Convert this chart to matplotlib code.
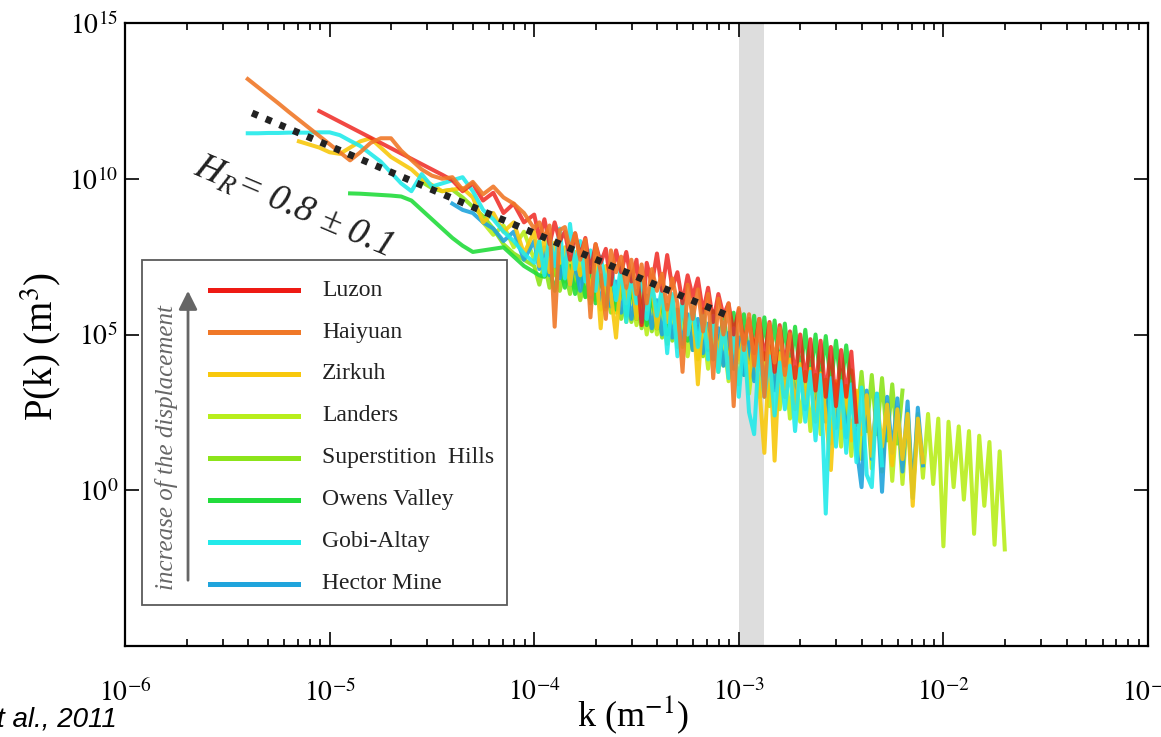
import matplotlib.pyplot as plt
import numpy as np
from matplotlib.patches import Rectangle
from matplotlib.lines import Line2D
from matplotlib.ticker import FixedLocator, NullFormatter, FuncFormatter

# ── Spectra (log10 values) ─────────────────────────────────

# wavenumber grid, log10(k / m^-1): coarse below 1e-4, fine above
LOGK = [-5.40, -5.35, -5.30, -5.25, -5.20, -5.15, -5.10, -5.05, -5.00, -4.95,
        -4.90, -4.85, -4.80, -4.75, -4.70, -4.65, -4.60, -4.55, -4.50, -4.45,
        -4.40, -4.35, -4.30, -4.25, -4.20, -4.15, -4.10, -4.05,
        -4.000, -3.975, -3.950, -3.925, -3.900, -3.875, -3.850, -3.825,
        -3.800, -3.775, -3.750, -3.725, -3.700, -3.675, -3.650, -3.625,
        -3.600, -3.575, -3.550, -3.525, -3.500, -3.475, -3.450, -3.425,
        -3.400, -3.375, -3.350, -3.325, -3.300, -3.275, -3.250, -3.225,
        -3.200, -3.175, -3.150, -3.125, -3.100, -3.075, -3.050, -3.025,
        -3.000, -2.975, -2.950, -2.925, -2.900, -2.875, -2.850, -2.825,
        -2.800, -2.775, -2.750, -2.725, -2.700, -2.675, -2.650, -2.625,
        -2.600, -2.575, -2.550, -2.525, -2.500, -2.475, -2.450, -2.425,
        -2.400, -2.375, -2.350, -2.325, -2.300, -2.275, -2.250, -2.225,
        -2.200, -2.175, -2.150, -2.125, -2.100, -2.075, -2.050, -2.025,
        -2.000, -1.975, -1.950, -1.925, -1.900, -1.875, -1.850, -1.825,
        -1.800, -1.775, -1.750, -1.725, -1.700]

# log10 P(k); each series starts at its own grid value (start_logk)
luzon = [12.17, 12.00, 11.83, 11.66, 11.49, 11.32, 11.15, 10.98, 10.81, 10.64,
         10.47, 10.30, 10.13, 9.95, 9.60, 9.85, 9.30, 9.55, 8.90, 9.20, 8.60,
         8.85, 8.10, 8.70, 7.90, 8.60, 8.00, 8.30, 7.40,
         8.25, 7.50, 8.10, 7.00, 7.90, 7.30, 7.75, 6.60,
         7.70, 7.00, 7.65, 6.70, 7.40, 5.30, 7.30, 6.60,
         7.60, 6.40, 7.55, 6.50, 7.00, 6.00, 6.90, 6.20,
         6.80, 5.70, 6.50, 5.40, 6.30, 5.60, 6.00, 5.00,
         5.80, 4.70, 5.50, 4.40, 5.50, 4.20, 5.40, 3.80,
         5.30, 4.00, 5.10, 3.60, 5.00, 3.50, 4.85, 3.20,
         4.80, 3.00, 4.60, 2.70, 4.50, 3.00, 4.45, 2.20]
haiyuan = [13.20, 12.94, 12.68, 12.42, 12.15, 11.89, 11.63, 11.37, 11.11, 10.85,
           10.59, 10.85, 11.15, 11.30, 11.30, 10.90, 10.60, 10.30, 10.10, 10.00,
           10.05, 9.65, 9.90, 9.50, 9.75, 9.40, 9.20, 8.90,
           8.40, 8.60, 8.10, 8.50, 5.25, 8.35, 8.45, 7.70,
           8.25, 7.40, 8.05, 5.55, 7.90, 7.00, 5.50, 7.70,
           7.00, 7.50, 6.50, 7.40, 6.30, 7.25, 6.00, 7.10,
           6.40, 6.95, 5.80, 6.80, 6.00, 3.80, 6.60, 5.50,
           6.45, 5.10, 6.30, 3.60, 6.15, 5.00, 6.00, 2.70,
           5.85, 4.50, 5.65, 4.00, 5.50, 3.00, 5.35, 4.10,
           5.20, 3.70, 5.00]
zirkuh = [11.20, 11.10, 11.00, 10.85, 10.80, 11.00, 11.20, 11.30, 11.00, 10.70,
          10.50, 10.30, 10.00, 9.80, 9.60, 9.65, 9.70, 9.40, 8.60, 8.90,
          8.30, 8.60, 7.60,
          8.30, 7.20, 8.10, 7.00, 7.95, 7.30, 7.80, 6.60,
          7.65, 6.90, 7.50, 6.30, 7.40, 5.20, 7.20, 6.30,
          4.90, 7.00, 6.00, 6.90, 5.50, 6.70, 5.80, 6.60,
          5.20, 6.40, 5.40, 6.25, 4.90, 6.10, 5.00, 5.90,
          3.40, 5.80, 4.60, 5.60, 4.30, 5.40, 3.90, 5.20,
          4.10, 5.00, 3.60, 4.85, 3.30, 1.20, 4.60, 0.95,
          4.40, 3.00, 4.20, 2.60, 4.05, 2.80, 3.90, 2.20,
          3.75, 2.40, 0.65, 3.50, 2.00, 3.35, 1.60, 3.20,
          1.80, 3.05, 1.10, 2.90, 1.40, 2.75, 0.80, 2.60,
          1.00, 2.45, -0.50, 2.30, 0.90]
landers = [8.60, 8.20, 8.50, 7.80, 8.30,
           7.40, 8.00, 7.10, 7.80, 6.90, 7.60, 6.70, 7.50,
           6.50, 7.30, 6.20, 7.10, 6.10, 6.90, 5.80, 6.75,
           5.70, 6.60, 5.40, 6.40, 5.30, 6.25, 5.00, 6.10,
           5.00, 5.90, 4.70, 5.75, 4.60, 5.60, 4.30, 5.45,
           4.20, 5.30, 3.90, 5.15, 3.80, 5.00, 3.50, 4.85,
           3.40, 4.70, 3.10, 4.55, 3.00, 4.40, 2.70, 4.25,
           2.60, 4.10, 2.30, 3.95, 2.20, 3.80, 1.90, 3.70,
           1.80, 3.55, 1.50, 3.40, 1.40, 3.30, 1.10, 3.15,
           1.00, 3.00, 0.70, 2.90, 0.60, 2.80, 0.30, 2.65,
           0.20, 2.55, -0.10, 2.45, 0.40, 2.45, 0.20, 2.30,
           -1.80, 2.20, 0.10, 2.05, -0.30, 1.90, -1.40, 1.75,
           -0.50, 1.55, -1.75, 1.25, -1.90]
superstition = [9.90, 9.70, 9.60, 9.65, 9.40, 9.10, 8.80, 8.40, 7.90, 7.60, 7.40,
                7.20, 6.60, 7.30, 6.50, 7.20, 6.40, 7.10, 6.30,
                7.00, 6.10, 6.85, 6.00, 6.70, 5.80, 6.60, 5.70,
                6.45, 5.50, 6.30, 5.40, 6.15, 5.20, 6.00, 5.10,
                5.85, 4.90, 5.70, 4.80, 5.55, 4.60, 5.40, 4.50,
                5.25, 4.30, 5.10, 4.20, 4.95, 4.00, 4.80, 3.90,
                4.65, 3.70, 4.50, 3.60, 4.40, 3.40, 4.30, 3.30,
                4.20, 3.10, 4.10, 3.00, 4.00, 2.80, 3.95, 2.70,
                3.90, 2.50, 3.90, 2.40, 3.85, 2.20, 3.85, 2.10,
                3.80, 1.90, 3.70, 1.80, 3.60, 1.60, 3.40, 1.50,
                3.20]
owens = [9.53, 9.52, 9.50, 9.48, 9.46, 9.43, 9.30, 9.00, 8.70, 8.40,
         8.10, 7.85, 7.65, 7.70, 7.75, 7.80, 7.50, 7.20,
         7.00, 6.90, 6.85, 7.10, 6.40, 7.20, 6.50, 7.20,
         6.30, 7.10, 6.20, 7.00, 6.00, 6.90, 5.90, 6.80,
         5.80, 6.65, 5.60, 6.55, 5.50, 6.40, 5.30, 6.30,
         5.20, 6.15, 5.00, 6.05, 4.90, 5.95, 4.80, 5.85,
         4.70, 5.80, 4.50, 5.75, 4.40, 5.70, 4.30, 5.70,
         4.20, 5.65, 4.10, 5.60, 4.00, 5.55, 4.00, 5.45,
         3.90, 5.35, 3.80, 5.25, 3.70, 5.15, 3.60, 5.00,
         3.50, 4.95, 3.40, 4.80, 3.30, 4.65, 3.20]
gobi = [11.46, 11.46, 11.47, 11.47, 11.48, 11.48, 11.48, 11.49, 11.49, 11.40,
        11.22, 11.05, 10.80, 10.55, 10.20, 9.85, 9.60, 10.15, 9.75, 9.85,
        9.95, 10.05, 9.60, 9.00, 8.70, 8.30, 8.00, 7.60,
        7.30, 8.00, 6.90, 8.20, 7.20, 8.40, 6.80, 8.55,
        7.10, 8.00, 6.70, 7.70, 6.40, 7.50, 6.60, 7.30,
        6.10, 7.20, 5.40, 7.00, 6.00, 6.80, 5.50, 6.70,
        5.60, 6.50, 4.40, 6.30, 4.30, 6.10, 5.00, 5.90,
        4.60, 5.75, 4.20, 5.60, 3.80, 5.40, 3.60, 5.20,
        3.00, 5.00, 2.50, 1.80, 4.70, 3.00, 4.30, 2.40,
        4.10, 2.60, 4.00, 1.90, 3.90, 2.20, 3.80, 1.60,
        3.70, -0.75, 3.60, 1.40, 3.50, 1.20, 3.40, 0.90,
        3.30, 0.50, 0.10, 3.10, 0.80]
hector = [9.20, 9.00, 8.90, 8.60, 8.40, 8.00, 8.30, 7.40,
          8.00, 7.10, 7.80, 6.90, 7.60, 6.80, 7.45, 6.60,
          7.30, 6.40, 7.15, 6.20, 7.00, 6.00, 6.85, 5.90,
          6.70, 5.70, 6.55, 5.50, 6.40, 5.40, 6.25, 5.20,
          6.10, 5.00, 5.95, 4.90, 5.80, 4.70, 5.65, 4.50,
          5.50, 4.40, 5.35, 4.20, 5.20, 4.00, 5.05, 3.90,
          4.90, 3.70, 4.75, 3.50, 4.60, 3.30, 4.45, 3.20,
          4.30, 3.00, 4.15, 2.80, 4.00, 2.60, 3.85, 2.40,
          3.70, 2.20, 3.55, 2.00, 3.40, 1.70, 3.30, 1.40,
          0.10, 3.20, 1.00, 3.10, -0.05, 3.00, 1.20, 2.95,
          0.60, 2.85, -0.25, 2.65, 0.80]

names = ["Luzon", "Haiyuan", "Zirkuh", "Landers", "Superstition  Hills",
         "Owens Valley", "Gobi-Altay", "Hector Mine"]
spectra = [luzon, haiyuan, zirkuh, landers, superstition, owens, gobi, hector]
start_logk = [-5.05, -5.40, -5.15, -4.25, -4.55, -4.90, -5.40, -4.40]
colors = ["#ee1a14", "#f07828", "#f8c80c", "#b8ee1c", "#8ce41a",
          "#22dc3c", "#22eaea", "#20a4dc"]
layer = [8, 9, 4, 1.5, 2, 2.5, 5, 3]
alphas = [0.8, 0.9, 0.9, 0.9, 0.9, 0.9, 0.9, 0.9]

# fitted power law, H_R = 0.8
fit_k = [4.18e-6, 9.27e-4]
fit_p = [1.29e12, 3.55e5]

# ── Style ──────────────────────────────────────────────────

plt.rcParams.update({
    "font.family": "serif",
    "font.serif": ["Liberation Serif", "DejaVu Serif"],
    "mathtext.fontset": "stix",
})

fig = plt.figure(figsize=(11.61, 7.37), dpi=100)
ax = fig.add_axes([125 / 1161, 1 - 646 / 737, 1023 / 1161, 623 / 737])

ax.axvspan(1e-3, 1.33e-3, color="#dddddd", lw=0, zorder=1)

grid = np.array(LOGK)
for logp, k0, col, z, a in zip(spectra, start_logk, colors, layer, alphas):
    i0 = int(np.argmin(np.abs(grid - k0)))
    k = 10 ** grid[i0:i0 + len(logp)]
    p = 10 ** np.array(logp)
    ax.plot(k, p, color=col, lw=2.9, alpha=a, zorder=z)

ax.plot(fit_k, fit_p, color="#222222", lw=5, linestyle=(0, (0.9, 1.25)), zorder=12)

ax.set_xscale("log")
ax.set_yscale("log")
ax.set_xlim(1e-6, 1e-1)
ax.set_ylim(1e-5, 1e15)

ax.xaxis.set_major_locator(FixedLocator([10.0 ** e for e in range(-6, 0)]))
ax.xaxis.set_minor_locator(FixedLocator([m * 10.0 ** e for e in range(-6, -1) for m in range(2, 10)]))
ax.xaxis.set_minor_formatter(NullFormatter())
ax.xaxis.set_major_formatter(FuncFormatter(lambda v, pos: r"$10^{%d}$" % round(np.log10(v))))
ax.yaxis.set_major_locator(FixedLocator([1e-5, 1e0, 1e5, 1e10, 1e15]))
ax.yaxis.set_minor_locator(FixedLocator([]))
ax.yaxis.set_major_formatter(FuncFormatter(
    lambda v, pos: "" if v < 1e-3 else r"$10^{%d}$" % round(np.log10(v))))

ax.tick_params(which="both", direction="in", top=True, right=True, width=1.2, labelsize=20)
ax.tick_params(which="major", length=10)
ax.tick_params(which="minor", length=5)
ax.tick_params(axis="x", pad=24)
ax.tick_params(axis="y", pad=5)
for s in ax.spines.values():
    s.set_linewidth(1.6)

ax.set_xlabel("k (m$^{-1}$)", fontsize=26)
ax.xaxis.set_label_coords(0.4966, -0.077)
ax.set_ylabel("P(k) (m$^3$)", fontsize=28, va="center")
ax.yaxis.set_label_coords(-0.083, 0.48)

# slope annotation
ax.text(0.164, 0.705, r"$H_R$= 0.8 ± 0.1", fontsize=27, style="italic", color="#222222",
        rotation=-23, rotation_mode="anchor", ha="center", va="center", transform=ax.transAxes)

# ── Legend panel ───────────────────────────────────────────

ax.add_patch(Rectangle((0.0166, 0.0658), 0.3568, 0.5538, transform=ax.transAxes,
                       facecolor="white", edgecolor="#5a5a5a", lw=1.3, zorder=20))
for j, (name, col) in enumerate(zip(names, colors)):
    y = 0.5714 - j * 0.0674
    ax.add_line(Line2D([0.0831, 0.1691], [y, y], color=col, lw=3.6,
                       transform=ax.transAxes, zorder=21))
    ax.text(0.1926, y, name, fontsize=17, va="center", ha="left",
            color="#222222", transform=ax.transAxes, zorder=21)

ax.annotate("", xy=(0.0616, 0.5746), xytext=(0.0616, 0.1011),
            xycoords="axes fraction", textcoords="axes fraction", zorder=21,
            arrowprops=dict(arrowstyle="-|>", color="#666666", lw=2, mutation_scale=28))
ax.text(0.041, 0.318, "increase of the displacement", rotation=90, fontsize=18,
        style="italic", color="#666666", ha="center", va="center",
        transform=ax.transAxes, zorder=21)

fig.text(-0.003, 0.014, "t al., 2011", fontsize=20, style="italic",
         family="Liberation Sans", ha="left", va="baseline")

fig.savefig("out.png", dpi=100)
